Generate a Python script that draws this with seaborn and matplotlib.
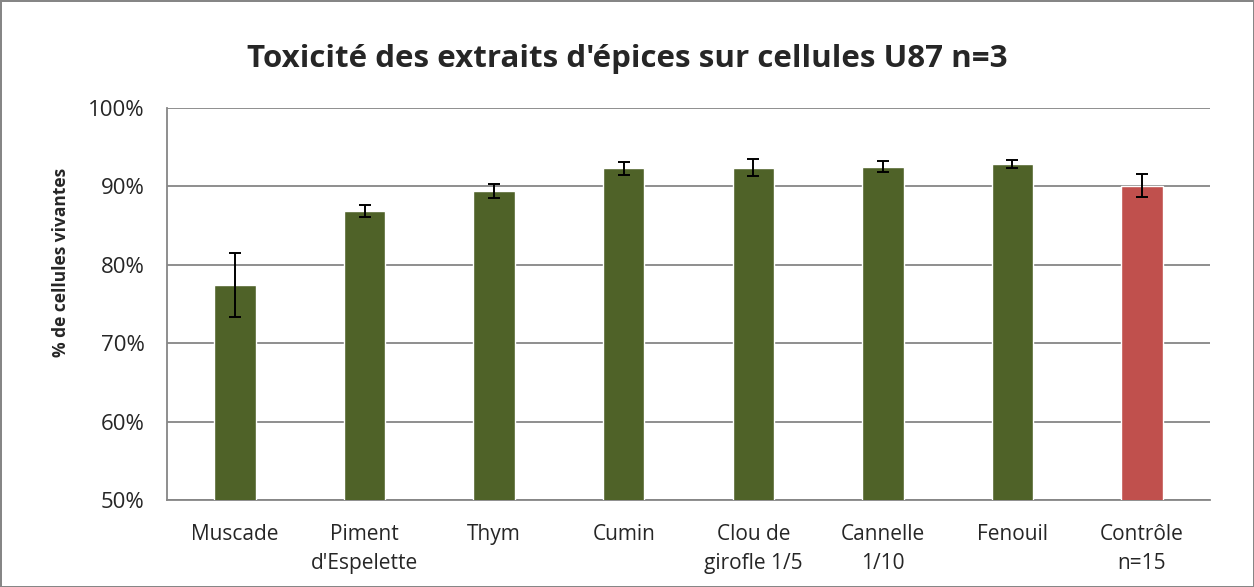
import numpy as np
import pandas as pd
import matplotlib
matplotlib.use("Agg")
import matplotlib.pyplot as plt
import seaborn as sns
from matplotlib.ticker import PercentFormatter

# Données
epices = ["Muscade", "Piment\nd'Espelette", "Thym", "Cumin", "Clou de\ngirofle 1/5",
          "Cannelle\n1/10", "Fenouil", "Contrôle\nn=15"]
vivantes = [77.4, 86.9, 89.4, 92.3, 92.4, 92.5, 92.9, 90.1]
erreurs = [4.1, 0.75, 0.85, 0.8, 1.05, 0.7, 0.5, 1.45]
groupe = ["extrait"] * 7 + ["controle"]

couleurs = {"extrait": "#4F6228", "controle": "#C0504D"}
gris = "#868686"

sns.set_style("white")
plt.rcParams['font.family'] = ['Open Sans', 'DejaVu Sans']

df = pd.DataFrame({"epice": epices, "vivantes": vivantes, "erreur": erreurs, "groupe": groupe})

fig = plt.figure(figsize=(12.54, 5.87), dpi=100)
ax = fig.add_axes([167 / 1254, 87 / 587, 1043 / 1254, 392 / 587])

sns.barplot(data=df, x="epice", y="vivantes", hue="groupe", palette=couleurs,
            width=0.32, dodge=False, legend=False, ax=ax, zorder=3, saturation=1)

# Barres d'erreur
ax.errorbar(np.arange(len(epices)), df["vivantes"], yerr=df["erreur"], fmt="none",
            ecolor="black", elinewidth=1.4, capsize=4.5, capthick=1.4, zorder=4)

ax.set_ylim(50, 100)
ax.set_yticks(range(50, 101, 10))
ax.yaxis.set_major_formatter(PercentFormatter(decimals=0))
ax.grid(axis="y", color=gris, linewidth=1.3, zorder=0)
ax.set_axisbelow(True)

for s in ["top", "right"]:
    ax.spines[s].set_visible(False)
for s in ["left", "bottom"]:
    ax.spines[s].set_color(gris)
    ax.spines[s].set_linewidth(1.3)

ax.tick_params(axis="y", length=5, color=gris, width=1.3, labelsize=16, pad=11)
ax.tick_params(axis="x", length=0, labelsize=15, pad=17)
for lab in ax.get_xticklabels():
    lab.set_linespacing(1.55)
ax.set_xlabel("")
ax.set_ylabel("% de cellules vivantes", fontsize=12.5, fontweight="bold")
ax.yaxis.set_label_coords(-0.093, 0.605)

fig.suptitle("Toxicité des extraits d'épices sur cellules U87 n=3", fontsize=22.5,
             fontweight="bold", y=0.925)

fig.patch.set_edgecolor(gris)
fig.patch.set_linewidth(2)

fig.savefig("out.png", dpi=100)
